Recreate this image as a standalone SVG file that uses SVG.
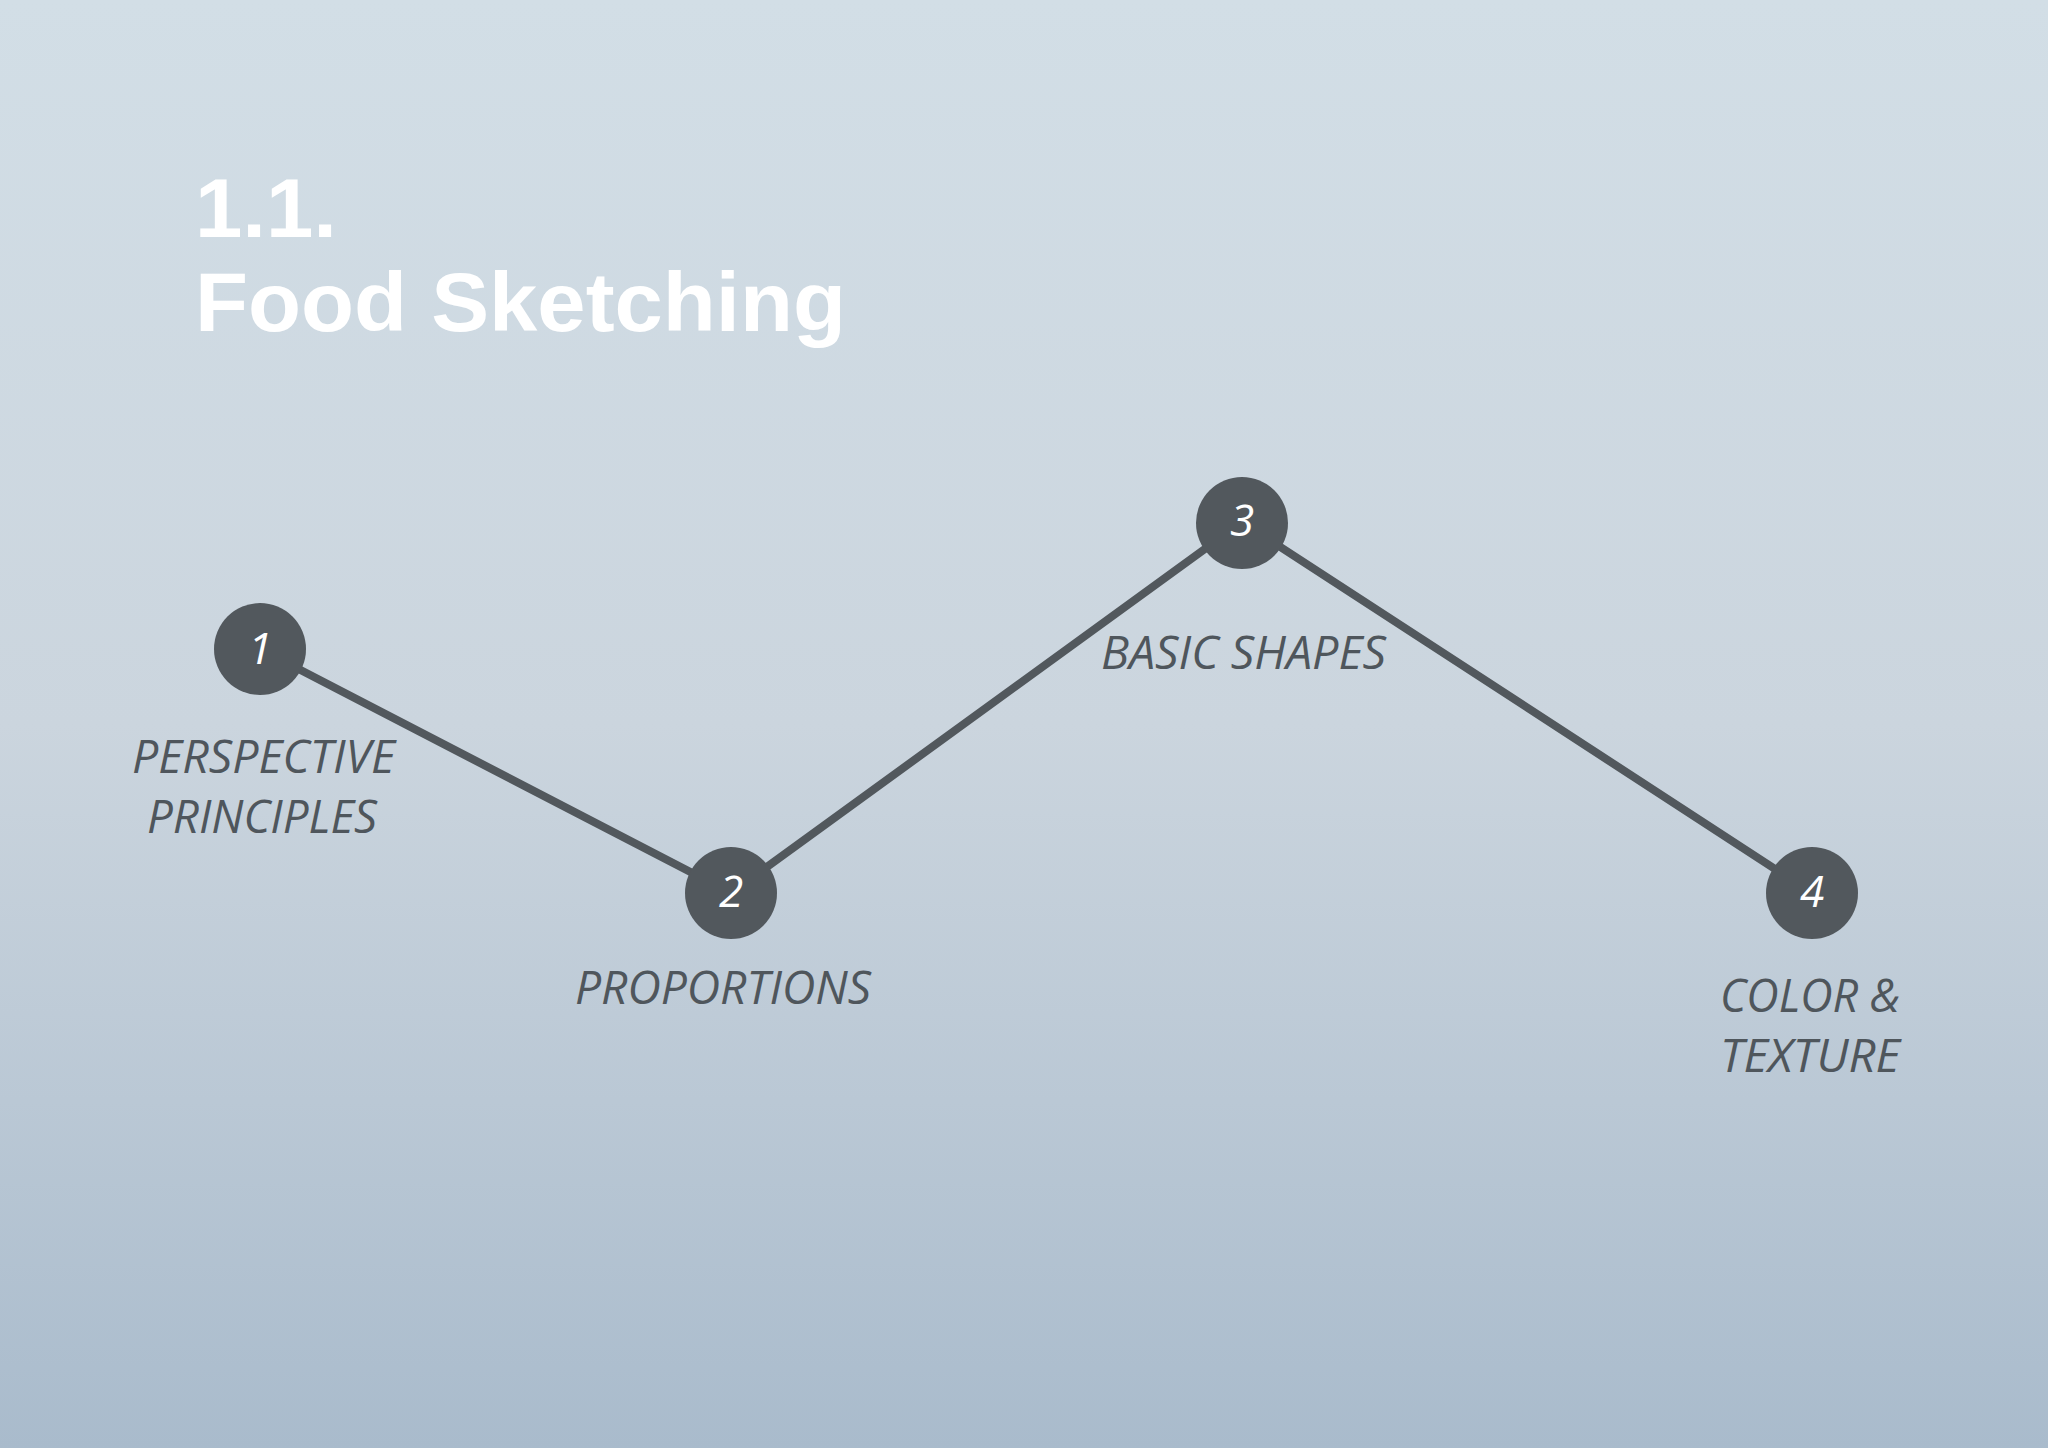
<svg xmlns="http://www.w3.org/2000/svg" width="2048" height="1448" viewBox="0 0 2048 1448">
<defs>
<linearGradient id="bg" x1="0" y1="0" x2="0" y2="1">
<stop offset="0" stop-color="#d2dee6"/>
<stop offset="0.5" stop-color="#cbd5de"/>
<stop offset="0.76" stop-color="#bac8d5"/>
<stop offset="1" stop-color="#a9bbcc"/>
</linearGradient>
</defs>
<style>
.title{font-family:"Liberation Sans",Arial,sans-serif;font-weight:bold;fill:#ffffff;font-size:84px}
.node{fill:#52585d}
.num{font-family:"Open Sans","Noto Sans",sans-serif;font-style:italic;fill:#ffffff;font-size:44px;text-anchor:middle}
.lbl{font-family:"Open Sans","Noto Sans",sans-serif;font-style:italic;fill:#4f565c;font-size:46px}
.conn{stroke:#52585d;stroke-width:8;fill:none;stroke-linejoin:round}
</style>
<rect x="0" y="0" width="2048" height="1448" fill="url(#bg)"/>
<g id="title">
<text class="title" x="195" y="237" textLength="142" lengthAdjust="spacingAndGlyphs">1.1.</text>
<text class="title" x="195" y="331" textLength="651" lengthAdjust="spacingAndGlyphs">Food Sketching</text>
</g>
<g id="connectors">
<polyline class="conn" points="260,649 731,893 1242,522 1812,893"/>
</g>
<g id="node1">
<circle class="node" cx="260" cy="649" r="46"/>
<text class="num" x="260" y="664">1</text>
<text class="lbl" x="132" y="773" textLength="263" lengthAdjust="spacingAndGlyphs">PERSPECTIVE</text>
<text class="lbl" x="147" y="833" textLength="230" lengthAdjust="spacingAndGlyphs">PRINCIPLES</text>
</g>
<g id="node2">
<circle class="node" cx="731" cy="893" r="46"/>
<text class="num" x="731" y="907">2</text>
<text class="lbl" x="575" y="1004" textLength="296" lengthAdjust="spacingAndGlyphs">PROPORTIONS</text>
</g>
<g id="node3">
<circle class="node" cx="1242" cy="523" r="46"/>
<text class="num" x="1242" y="536">3</text>
<text class="lbl" x="1101" y="669" textLength="285" lengthAdjust="spacingAndGlyphs">BASIC SHAPES</text>
</g>
<g id="node4">
<circle class="node" cx="1812" cy="893" r="46"/>
<text class="num" x="1812" y="907">4</text>
<text class="lbl" x="1720" y="1012" textLength="180" lengthAdjust="spacingAndGlyphs">COLOR &amp;</text>
<text class="lbl" x="1720" y="1072" textLength="180" lengthAdjust="spacingAndGlyphs">TEXTURE</text>
</g>
</svg>
